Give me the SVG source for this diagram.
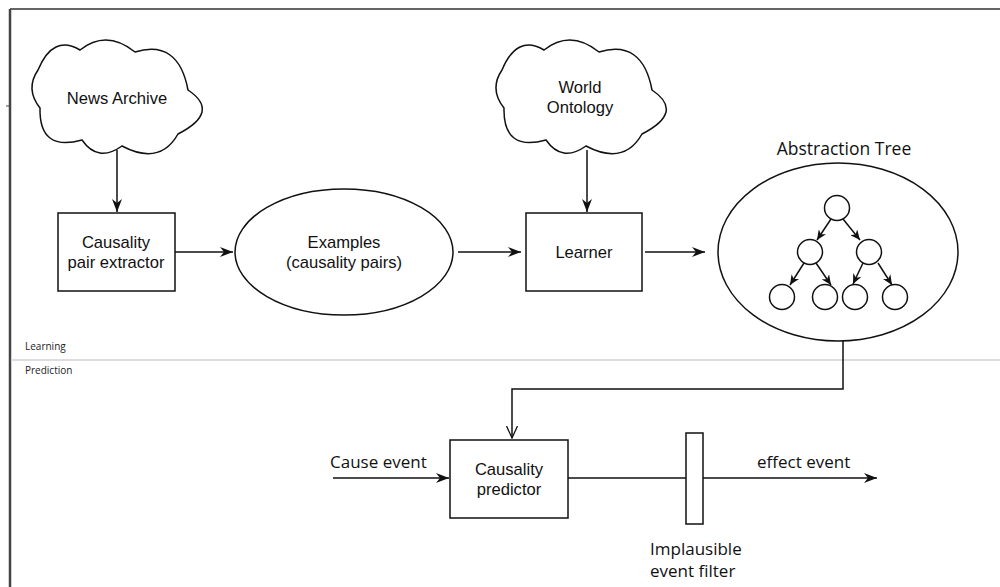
<svg xmlns="http://www.w3.org/2000/svg" width="1000" height="587" viewBox="0 0 1000 587">
<style>
.sh{fill:#fff;stroke:#111;stroke-width:1.5}
.ln{fill:none;stroke:#111;stroke-width:1.5}
.t{font-family:"Liberation Sans",Arial,sans-serif;font-size:16.6px;fill:#111;text-anchor:middle}
.h{font-family:"Open Sans","DejaVu Sans",sans-serif;font-size:17px;fill:#111}
.s{font-family:"Open Sans","DejaVu Sans",sans-serif;font-size:10px;fill:#222}
</style>
<defs>
<marker id="ah" markerWidth="14" markerHeight="10" refX="13" refY="5" orient="auto" markerUnits="userSpaceOnUse">
<path d="M0,0 L13,5 L0,10 L4,5 z" fill="#111"/>
</marker>
<marker id="as" markerWidth="11" markerHeight="9" refX="10" refY="4.5" orient="auto" markerUnits="userSpaceOnUse">
<path d="M0,0 L10,4.5 L0,9 L3,4.5 z" fill="#111"/>
</marker>
<marker id="av" markerWidth="14" markerHeight="12" refX="12" refY="6" orient="auto" markerUnits="userSpaceOnUse">
<path d="M0,0.5 L12,6 L0,11.5" fill="none" stroke="#111" stroke-width="1.3"/>
</marker>
<path id="cloud" d="M40,108 Q25,89 38,70 Q53,34 80,50 Q106.5,29 135,52 Q178.5,39 188,90 Q221,112 178,134 Q160,166 122,146 Q98,163 82,140 Q39,152 40,108 Z"/>
</defs>

<g id="frame">
<line x1="10" y1="9" x2="1000" y2="9" stroke="#333" stroke-width="1.5"/>
<line x1="10" y1="9" x2="10" y2="587" stroke="#444" stroke-width="2.5"/>
<line x1="6" y1="106" x2="10" y2="106" stroke="#444" stroke-width="1"/>
<line x1="11" y1="360" x2="1000" y2="360" stroke="#ddd" stroke-width="2"/>
<text class="s" x="25" y="350">Learning</text>
<text class="s" x="25" y="374">Prediction</text>
</g>

<g id="connectors">
<line class="ln" x1="117" y1="150" x2="117" y2="212" marker-end="url(#ah)"/>
<line class="ln" x1="175" y1="252" x2="233" y2="252" marker-end="url(#ah)"/>
<line class="ln" x1="458" y1="252" x2="521" y2="252" marker-end="url(#ah)"/>
<line class="ln" x1="587" y1="150" x2="587" y2="212" marker-end="url(#ah)"/>
<line class="ln" x1="645" y1="252" x2="705" y2="252" marker-end="url(#ah)"/>
<polyline class="ln" points="843,341 843,389 512,389 512,438" marker-end="url(#av)"/>
<line class="ln" x1="333" y1="478" x2="449" y2="478" marker-end="url(#ah)"/>
<line class="ln" x1="568" y1="478" x2="686" y2="478"/>
<line class="ln" x1="703" y1="478" x2="877" y2="478" marker-end="url(#ah)"/>
</g>

<g id="news-archive">
<use href="#cloud" x="0" y="0" class="sh"/>
<text class="t" x="117" y="104">News Archive</text>
</g>

<g id="world-ontology">
<use href="#cloud" x="464" y="0" class="sh"/>
<text class="t" x="580" y="93">World</text>
<text class="t" x="580" y="113">Ontology</text>
</g>

<g id="pair-extractor">
<rect class="sh" x="58" y="213" width="117" height="78"/>
<text class="t" x="116" y="248">Causality</text>
<text class="t" x="116" y="268">pair extractor</text>
</g>

<g id="examples">
<ellipse class="sh" cx="344" cy="252" rx="109" ry="63"/>
<text class="t" x="344" y="248">Examples</text>
<text class="t" x="344" y="268">(causality pairs)</text>
</g>

<g id="learner">
<rect class="sh" x="526" y="213" width="116" height="78"/>
<text class="t" x="584" y="258">Learner</text>
</g>

<g id="abstraction-tree">
<text class="h" x="844" y="155" text-anchor="middle" style="font-size:17.5px">Abstraction Tree</text>
<ellipse class="sh" cx="838" cy="252" rx="120" ry="89"/>
<g class="ln" stroke-width="1.2">
<line x1="831" y1="219" x2="817" y2="240" marker-end="url(#as)"/>
<line x1="843" y1="219" x2="860" y2="240" marker-end="url(#as)"/>
<line x1="804" y1="263" x2="790" y2="285" marker-end="url(#as)"/>
<line x1="816" y1="263" x2="831" y2="285" marker-end="url(#as)"/>
<line x1="863" y1="263" x2="853" y2="284" marker-end="url(#as)"/>
<line x1="878" y1="263" x2="892" y2="285" marker-end="url(#as)"/>
</g>
<g class="sh" stroke-width="1.3">
<circle cx="837" cy="208" r="12.5"/>
<circle cx="810" cy="252" r="12.5"/>
<circle cx="869" cy="252" r="12.5"/>
<circle cx="782" cy="297" r="12.5"/>
<circle cx="825" cy="297" r="12.5"/>
<circle cx="855" cy="297" r="12.5"/>
<circle cx="895" cy="297" r="12.5"/>
</g>
</g>

<g id="cause-event">
<text class="h" x="330" y="468">Cause event</text>
</g>

<g id="causality-predictor">
<rect class="sh" x="450" y="440" width="118" height="78"/>
<text class="t" x="509" y="475">Causality</text>
<text class="t" x="509" y="495">predictor</text>
</g>

<g id="event-filter">
<rect class="sh" x="686" y="433" width="17" height="91"/>
<text class="h" x="650" y="555">Implausible</text>
<text class="h" x="650" y="577">event filter</text>
</g>

<g id="effect-event">
<text class="h" x="757" y="468">effect event</text>
</g>
</svg>
